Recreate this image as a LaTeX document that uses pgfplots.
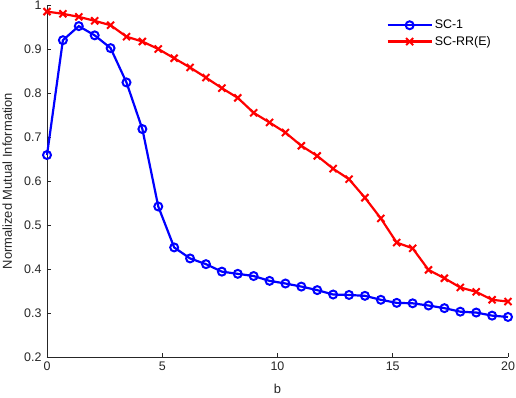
\documentclass[border=0pt]{standalone}
\usepackage{pgfplots}
\pgfplotsset{compat=1.18}
\usepackage{fontspec}
\setmainfont{Liberation Sans}
\definecolor{axgray}{RGB}{38,38,38}
\begin{document}
\begin{tikzpicture}
\begin{axis}[
  scale only axis, width=461bp, height=352bp,
  xmin=0, xmax=20, ymin=0.2, ymax=1,
  axis lines=left, axis line style={-, axgray, line width=0.7pt},
  tick align=inside, major tick length=4bp,
  tick style={axgray, line width=0.7pt},
  xtick={0,5,10,15,20},
  ytick={0.2,0.3,0.4,0.5,0.6,0.7,0.8,0.9,1},
  yticklabels={0.2,0.3,0.4,0.5,0.6,0.7,0.8,0.9,1},
  /pgf/number format/assume math mode=true,
  tick label style={font=\fontsize{12.5}{14}\selectfont, text=axgray},
  xticklabel style={yshift=-1bp},
  yticklabel style={xshift=-2bp},
  xlabel={b}, ylabel={Normalized Mutual Information},
  label style={font=\fontsize{13}{15}\selectfont, text=axgray},
  xlabel style={at={(axis description cs:0.5,-0.091)}, anchor=center},
  ylabel style={at={(axis description cs:-0.086,0.5)}, anchor=center},
  legend style={at={(rel axis cs:0.734,0.966)}, anchor=north west, draw=none, fill=none,
    font=\fontsize{12.5}{14}\selectfont, row sep=2bp, inner sep=1bp},
  legend cell align=left,
  legend image code/.code={\draw[mark repeat=2,mark phase=2,#1] plot coordinates {(0bp,0bp) (22bp,0bp) (44bp,0bp)};},
  clip=false,
]
\addplot[blue, line width=2.2pt, mark=o, mark size=4pt, mark options={line width=2pt}] coordinates {
(0,0.659) (0.6897,0.920) (1.3793,0.952) (2.0690,0.931) (2.7586,0.902) (3.4483,0.824)
(4.1379,0.718) (4.8276,0.542) (5.5172,0.449) (6.2069,0.424) (6.8966,0.411) (7.5862,0.394)
(8.2759,0.389) (8.9655,0.384) (9.6552,0.373) (10.3448,0.367) (11.0345,0.360) (11.7241,0.352)
(12.4138,0.342) (13.1034,0.341) (13.7931,0.339) (14.4828,0.330) (15.1724,0.323) (15.8621,0.322)
(16.5517,0.317) (17.2414,0.311) (17.9310,0.303) (18.6207,0.301) (19.3103,0.294) (20,0.291)
};
\addlegendentry{SC-1}
\addplot[red, line width=2.2pt, mark=x, mark size=5pt, mark options={line width=2pt}] coordinates {
(0,0.985) (0.6897,0.980) (1.3793,0.973) (2.0690,0.964) (2.7586,0.954) (3.4483,0.928)
(4.1379,0.917) (4.8276,0.900) (5.5172,0.879) (6.2069,0.858) (6.8966,0.835) (7.5862,0.811)
(8.2759,0.789) (8.9655,0.755) (9.6552,0.733) (10.3448,0.710) (11.0345,0.680) (11.7241,0.657)
(12.4138,0.628) (13.1034,0.604) (13.7931,0.562) (14.4828,0.515) (15.1724,0.460) (15.8621,0.447)
(16.5517,0.398) (17.2414,0.379) (17.9310,0.358) (18.6207,0.348) (19.3103,0.330) (20,0.326)
};
\addlegendentry{SC-RR(E)}
\coordinate (SW) at (rel axis cs:0,0);
\coordinate (NE) at (rel axis cs:1,1);
\end{axis}
\pgfresetboundingbox
\path ([xshift=-47bp,yshift=-41bp]SW) rectangle ([xshift=8bp,yshift=5bp]NE);
\end{tikzpicture}
\end{document}
